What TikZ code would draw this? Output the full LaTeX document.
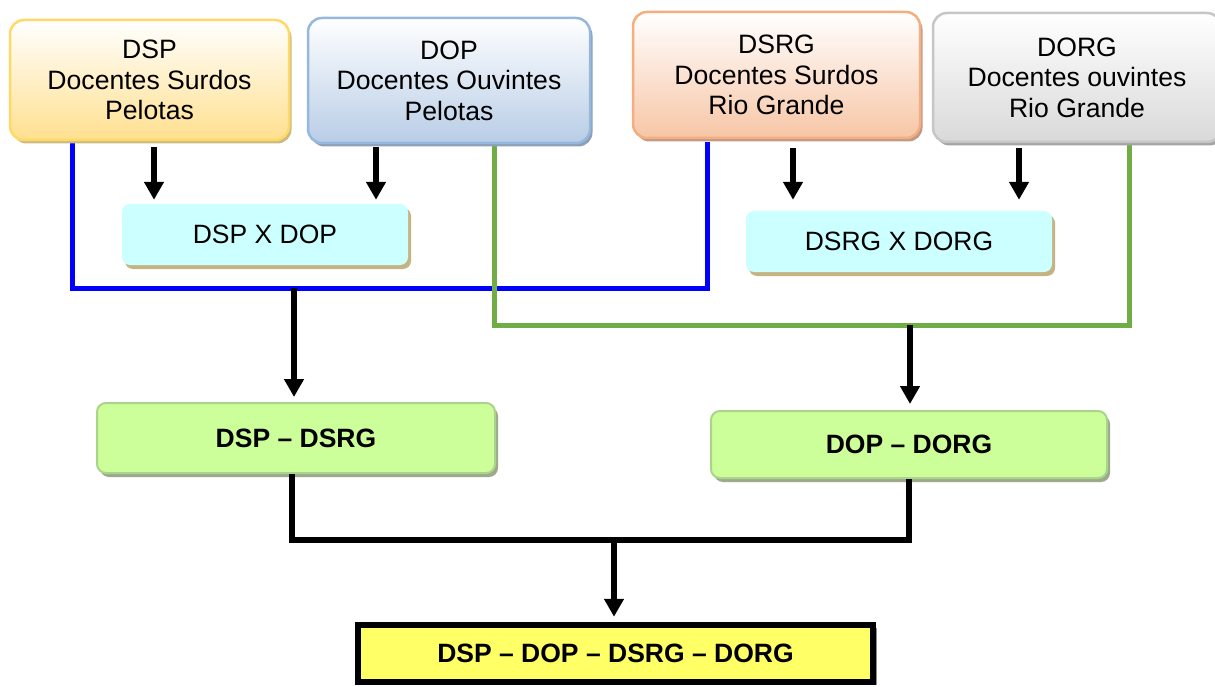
\documentclass[tikz,border=0pt]{standalone}
\usepackage{fontspec}
\setmainfont{Liberation Sans}
\usetikzlibrary{arrows.meta,shadows}
\definecolor{dspB}{HTML}{FFD966}\definecolor{dspF}{HTML}{FFE08F}\definecolor{dspS}{HTML}{CDBB85}
\definecolor{dopB}{HTML}{95B8DE}\definecolor{dopF}{HTML}{B8CDE6}\definecolor{dopS}{HTML}{8CA0B6}
\definecolor{dsrgB}{HTML}{F4AE80}\definecolor{dsrgF}{HTML}{F7C6A6}\definecolor{dsrgS}{HTML}{C09A85}
\definecolor{dorgB}{HTML}{C6C6C6}\definecolor{dorgF}{HTML}{D9D9D9}\definecolor{dorgS}{HTML}{A4A4A4}
\definecolor{cyanF}{HTML}{CCFFFF}\definecolor{tanS}{HTML}{C4B383}
\definecolor{grnF}{HTML}{CCFF99}\definecolor{grnB}{HTML}{AAD48C}\definecolor{grnS}{HTML}{9CA98A}
\definecolor{yelF}{HTML}{FFFF66}
\definecolor{lineB}{HTML}{0000FF}\definecolor{lineG}{HTML}{70AD47}
\tikzset{
  topbox/.style n args={3}{draw=#1, line width=2.5pt, rounded corners=14pt, top color=white, bottom color=#2,
     drop shadow={shadow xshift=2.5pt,shadow yshift=-3.5pt,opacity=1,fill=#3},
     align=center, font=\fontsize{26.6}{30.5}\selectfont, inner sep=0pt},
  xbox/.style={fill=cyanF, rounded corners=8pt, drop shadow={shadow xshift=3pt,shadow yshift=-4pt,opacity=1,fill=tanS},
     font=\fontsize{26.5}{30}\selectfont, inner sep=0pt, minimum height=61pt},
  gbox/.style={fill=grnF, draw=grnB, line width=2pt, rounded corners=9pt,
     drop shadow={shadow xshift=3pt,shadow yshift=-4pt,opacity=1,fill=grnS},
     font=\fontsize{26.5}{30}\selectfont\bfseries, inner sep=0pt},
  finalbox/.style={fill=yelF, draw=black, line width=6.5pt,
     drop shadow={shadow xshift=4pt,shadow yshift=-3pt,opacity=1,fill=black!45},
     font=\fontsize{26.5}{30}\selectfont\bfseries, inner sep=0pt},
  arr/.style={line width=5.5pt, -{Triangle[width=19pt,length=18pt]}},
  blk/.style={line width=5.5pt},
  bluel/.style={draw=lineB, line width=5pt},
  greenl/.style={draw=lineG, line width=5pt},
}
\begin{document}
\begin{tikzpicture}[x=1pt,y=-1pt]
\useasboundingbox (0,0) rectangle (1215,687);
% junction coordinates
\coordinate (bL) at (72,288);
\coordinate (bR) at (707,288);
\coordinate (bJ) at (294,288);
\coordinate (gL) at (494,325);
\coordinate (gR) at (1129,325);
\coordinate (gJ) at (910,325);
\coordinate (kL) at (292,540);
\coordinate (kR) at (909,540);
\coordinate (kJ) at (614,540);
\coordinate (a1) at (154,0);
\coordinate (a2) at (376,0);
\coordinate (a3) at (793,0);
\coordinate (a4) at (1019,0);
% coloured lines drawn first (boxes cover their ends)
\draw[bluel] (bL |- 0,142) -- (bL) -- (bR) -- (bR |- 0,142);
\draw[greenl] (gL |- 0,143) -- (gL) -- (gR) -- (gR |- 0,142);
% nodes
\node[topbox={dspB}{dspF}{dspS}, minimum width=279pt, minimum height=120pt] (dsp) at (149.5,80) {DSP\\Docentes Surdos\\Pelotas};
\node[topbox={dopB}{dopF}{dopS}, minimum width=282pt, minimum height=125pt] (dop) at (449,80.5) {DOP\\Docentes Ouvintes\\Pelotas};
\node[topbox={dsrgB}{dsrgF}{dsrgS}, minimum width=287pt, minimum height=126pt] (dsrg) at (776.5,75) {DSRG\\Docentes Surdos\\Rio Grande};
\node[topbox={dorgB}{dorgF}{dorgS}, minimum width=288pt, minimum height=129pt] (dorg) at (1077,77.5) {DORG\\Docentes ouvintes\\Rio Grande};
\node[xbox, minimum width=286pt] (dspxdop) at (265,234.5) {DSP X DOP};
\node[xbox, minimum width=306pt] (dsrgxdorg) at (899,241.5) {DSRG X DORG};
\node[gbox, minimum width=398pt, minimum height=70pt] (dspdsrg) at (296,438) {DSP – DSRG};
\node[gbox, minimum width=396pt, minimum height=67pt] (dopdorg) at (909,444.5) {DOP – DORG};
\node[finalbox, minimum width=515pt, minimum height=57pt] (final) at (615.5,653.5) {DSP – DOP – DSRG – DORG};
% arrows from top boxes
\draw[arr] ([yshift=-6pt]dsp.south -| a1) -- ([yshift=4pt]dspxdop.north -| a1);
\draw[arr] ([yshift=-3pt]dop.south -| a2) -- ([yshift=4pt]dspxdop.north -| a2);
\draw[arr] ([yshift=-9pt]dsrg.south -| a3) -- ([yshift=11pt]dsrgxdorg.north -| a3);
\draw[arr] ([yshift=-5pt]dorg.south -| a4) -- ([yshift=11pt]dsrgxdorg.north -| a4);
% arrows from junction lines
\draw[arr] (bJ) -- ([yshift=5pt]dspdsrg.north -| bJ);
\draw[arr] (gJ) -- ([yshift=6pt]dopdorg.north -| gJ);
% bottom connectors
\draw[blk] (dspdsrg.south -| kL) -- (kL) -- (kR) -- (dopdorg.south -| kR);
\draw[arr] (kJ) -- ([yshift=5pt]final.north -| kJ);
\end{tikzpicture}
\end{document}
